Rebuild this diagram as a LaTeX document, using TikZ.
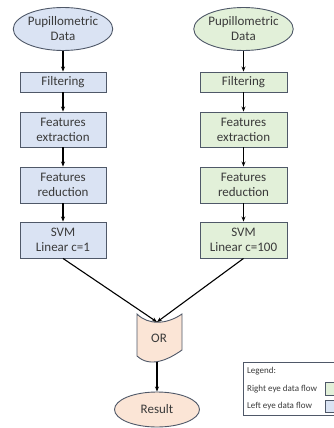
\documentclass[tikz,border=0pt]{standalone}
\usepackage{fontspec}
\setmainfont{Carlito}
\usetikzlibrary{shapes.geometric,arrows.meta}
\definecolor{bfill}{HTML}{DAE3F3}
\definecolor{gfill}{HTML}{E2F0D9}
\definecolor{pfill}{HTML}{FBE5D6}
\definecolor{edge}{HTML}{4F5868}
\definecolor{tcol}{HTML}{3A3A3A}
\tikzset{
  base/.style={draw=edge, line width=0.9pt, text=tcol, align=center, font=\fontsize{13}{15}\selectfont, inner sep=0pt},
  blueb/.style={base, rectangle, fill=bfill, minimum width=86pt},
  greenb/.style={base, rectangle, fill=gfill, minimum width=87pt},
  bell/.style={base, ellipse, fill=bfill, minimum width=87pt, minimum height=43pt},
  gell/.style={base, ellipse, fill=gfill, minimum width=87pt, minimum height=43pt},
  conn/.style={draw=black, line width=1.1pt, -{Stealth[length=5pt,width=4pt]}},
  legtext/.style={font=\fontsize{9}{10}\selectfont, text=tcol, anchor=west, inner sep=0pt}
}
\begin{document}
\begin{tikzpicture}[x=1pt,y=-1pt]
\useasboundingbox (0,0) rectangle (333,428);
% left column
\node[bell] (le) at (63,29) {Pupillometric\\Data};
\node[blueb, minimum height=20pt] (lf) at (63,82) {Filtering};
\node[blueb, minimum height=35pt] (lx) at (63,129.5) {Features\\extraction};
\node[blueb, minimum height=36pt] (lr) at (63,185) {Features\\reduction};
\node[blueb, minimum height=36pt] (ls) at (63,240) {SVM\\Linear c=1};
% right column
\node[gell] (re) at (243.5,29) {Pupillometric\\Data};
\node[greenb, minimum height=20pt] (rf) at (243.5,82) {Filtering};
\node[greenb, minimum height=35pt] (rx) at (243.5,129.5) {Features\\extraction};
\node[greenb, minimum height=36pt] (rr) at (243.5,185) {Features\\reduction};
\node[greenb, minimum height=36pt] (rs) at (243.5,240) {SVM\\Linear c=100};
% OR shape
\path[draw=edge, line width=0.9pt, fill=pfill]
  (137,314) .. controls (148,325) and (166,325) .. (182,314)
  -- (182,350) .. controls (168,360) and (150,368) .. (137,356) -- cycle;
\node[text=tcol, font=\fontsize{13}{15}\selectfont, inner sep=0pt] (or) at (159,338) {OR};
\coordinate (ortop) at (157,322);
\coordinate (orbot) at (157,362);
% result
\node[base, ellipse, fill=pfill, minimum width=85pt, minimum height=35pt] (res) at (157,409.5) {Result};
% connectors
\draw[conn] (le) -- (lf);
\draw[conn] (lf) -- (lx);
\draw[conn] (lx) -- (lr);
\draw[conn] (lr) -- (ls);
\draw[conn] (re) -- (rf);
\draw[conn] (rf) -- (rx);
\draw[conn] (rx) -- (rr);
\draw[conn] (rr) -- (rs);
\draw[conn] (ls.south) -- (ortop);
\draw[conn] (rs.south) -- (ortop);
\draw[conn] (orbot) -- (res);
% legend
\draw[draw=edge, line width=0.7pt, fill=white] (243,362) rectangle (345,415);
\node[legtext] (lg) at (247,371) {Legend:};
\node[legtext] (lgr) at (247,389) {Right eye data flow};
\node[legtext] (lgl) at (247,406) {Left eye data flow};
\draw[draw=edge, line width=0.6pt, fill=gfill] (325,382) rectangle (340,395);
\draw[draw=edge, line width=0.6pt, fill=bfill] (325,400) rectangle (340,412);
\end{tikzpicture}
\end{document}
